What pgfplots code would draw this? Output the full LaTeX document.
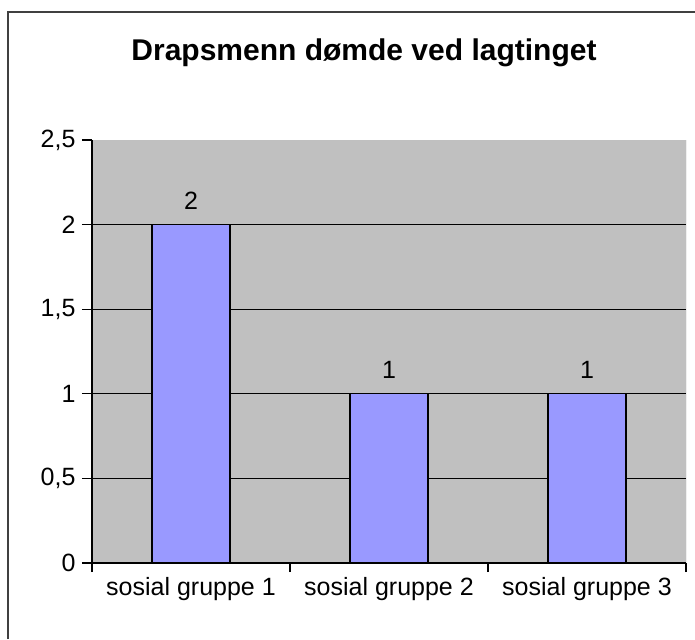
\documentclass[border=0pt]{standalone}
\usepackage{fontspec}
\setmainfont{Liberation Sans}
\usepackage{pgfplots}
\pgfplotsset{compat=1.18}
\definecolor{plotgray}{HTML}{C0C0C0}
\definecolor{barblue}{HTML}{9999FF}
\begin{document}
\begin{tikzpicture}
\path[use as bounding box] (0,0) rectangle (695pt,639pt);
\fill[white] (0,0) rectangle (695pt,639pt);
% chart frame (right and bottom edges fall outside the picture)
\draw[line width=1.5pt, black!75] (8pt,0) -- (8pt,627pt) -- (695pt,627pt);
\node[font=\bfseries\fontsize{30}{35}\selectfont] at (364pt,586pt) {Drapsmenn dømde ved lagtinget};
\begin{axis}[
    at={(92pt,76pt)}, anchor=south west,
    scale only axis, width=594pt, height=423pt,
    xmin=-0.5, xmax=2.5, ymin=0, ymax=2.5,
    axis background/.style={fill=plotgray},
    axis x line*=bottom, axis y line*=left,
    axis line style={black, line width=1.3pt},
    xtick={0,1,2},
    xticklabels={sosial gruppe 1, sosial gruppe 2, sosial gruppe 3},
    major x tick style={draw=none},
    minor xtick={-0.5,0.5,1.5,2.5},
    minor tick length=9pt, major tick length=10pt,
    tick align=outside,
    tick style={black, line width=1.3pt},
    ytick={0,0.5,1,1.5,2},
    extra y ticks={2.5},
    extra y tick style={grid=none},
    ymajorgrids, grid style={black, line width=1.3pt},
    /pgf/number format/use comma,
    /pgf/number format/assume math mode=true,
    tick label style={font=\fontsize{25}{29}\selectfont},
    xticklabel style={yshift=-1pt},
    yticklabel style={xshift=-3pt},
]
\addplot[ybar, bar width=78pt, fill=barblue, draw=black, line width=1.3pt,
    nodes near coords,
    nodes near coords style={font=\fontsize{25}{29}\selectfont, yshift=11pt}]
    coordinates {(0,2) (1,1) (2,1)};
\draw[gray, line width=1pt] (rel axis cs:1,0) -- (rel axis cs:1,1);
\end{axis}
\end{tikzpicture}
\end{document}
